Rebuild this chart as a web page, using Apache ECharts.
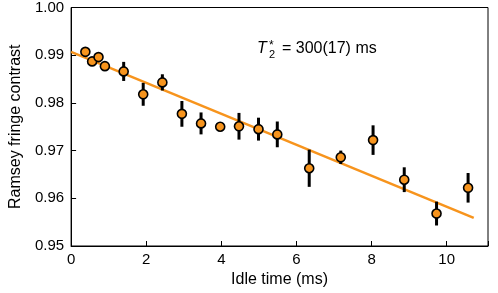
<!DOCTYPE html>
<html><head><meta charset="utf-8">
<script src="https://cdn.jsdelivr.net/npm/echarts@6/dist/echarts.min.js"></script>
<style>html,body{margin:0;padding:0;background:#fff}#c{width:498px;height:293px}</style>
</head><body><div id="c"></div>
<script>
const idleTime = [0.38, 0.56, 0.73, 0.90, 1.40, 1.92, 2.43, 2.95, 3.46, 3.97, 4.47, 4.99, 5.49, 6.34, 7.18, 8.04, 8.87, 9.73, 10.57];
const contrast = [0.9907, 0.9887, 0.9896, 0.9877, 0.9866, 0.9818, 0.9843, 0.9777, 0.9757, 0.9750, 0.9751, 0.9745, 0.9734, 0.9663, 0.9686, 0.9722, 0.9639, 0.9568, 0.9622];
const errorBar = [0, 0, 0, 0, 0.0020, 0.0024, 0.0017, 0.0027, 0.0023, 0, 0.0028, 0.0024, 0.0027, 0.0039, 0.0014, 0.0031, 0.0026, 0.0025, 0.0031];
const fitTime = [0, 10.72];
const fitContrast = [0.9907, 0.9559];
const xTicks = [0, 2, 4, 6, 8, 10];
const yTicks = [0.95, 0.96, 0.97, 0.98, 0.99, 1.00];

const FONT = '"Liberation Sans", Arial, Helvetica, sans-serif';
const ORANGE = '#F7941D';

const pts = idleTime.map((x, i) => [x, contrast[i]]);
const errs = idleTime.map((x, i) => [x, contrast[i] - errorBar[i], contrast[i] + errorBar[i]]).filter((d, i) => errorBar[i] > 0);
const fit = fitTime.map((x, i) => [x, fitContrast[i]]);

const chart = echarts.init(document.getElementById('c'), null, {renderer: 'canvas'});
chart.setOption({
  animation: false,
  backgroundColor: '#fff',
  grid: {left: 69, right: 10, top: 7, bottom: 47, show: true, borderColor: '#000', borderWidth: 1},
  xAxis: {
    type: 'value', min: 0, max: 11.1, interval: 2,
    name: 'Idle time (ms)', nameLocation: 'middle', nameGap: 26,
    nameTextStyle: {fontFamily: FONT, fontSize: 16, color: '#000'},
    axisLine: {show: true, lineStyle: {color: '#000', width: 1}},
    axisTick: {show: true, inside: true, length: 5, lineStyle: {color: '#000'}},
    axisLabel: {fontFamily: FONT, fontSize: 15, color: '#000', margin: 6,
      formatter: v => xTicks.includes(v) ? String(v) : ''},
    splitLine: {show: false}
  },
  yAxis: {
    type: 'value', min: 0.95, max: 1.0, interval: 0.01,
    name: 'Ramsey fringe contrast', nameLocation: 'middle', nameGap: 46,
    nameTextStyle: {fontFamily: FONT, fontSize: 16, color: '#000'},
    axisLine: {show: true, lineStyle: {color: '#000', width: 1}},
    axisTick: {show: true, inside: true, length: 5, lineStyle: {color: '#000'}},
    axisLabel: {fontFamily: FONT, fontSize: 15, color: '#000', margin: 7,
      formatter: v => { const t = yTicks.find(k => Math.abs(k - v) < 1e-9); return t !== undefined ? t.toFixed(2) : ''; }},
    splitLine: {show: false}
  },
  series: [
    {
      type: 'line', data: fit, symbol: 'none', z: 1,
      lineStyle: {color: ORANGE, width: 2.5}
    },
    {
      type: 'custom', z: 2,
      data: errs,
      renderItem: (params, api) => {
        const x = api.value(0);
        const p1 = api.coord([x, api.value(1)]);
        const p2 = api.coord([x, api.value(2)]);
        return {type: 'line', shape: {x1: p1[0], y1: p1[1], x2: p2[0], y2: p2[1]},
          style: {stroke: '#000', lineWidth: 3}};
      }
    },
    {
      type: 'scatter', data: pts, z: 3, symbol: 'circle', symbolSize: 9,
      itemStyle: {color: ORANGE, borderColor: '#000', borderWidth: 1.6, opacity: 1}
    }
  ],
  graphic: [
    {type: 'text', left: 257, top: 41, style: {text: 'T', font: 'italic 16px ' + FONT, fill: '#000'}},
    {type: 'text', left: 269, top: 49, style: {text: '2', font: '11px ' + FONT, fill: '#000'}},
    {type: 'text', left: 269, top: 40, style: {text: '*', font: '12px ' + FONT, fill: '#000'}},
    {type: 'text', left: 282, top: 41, style: {text: '= 300(17) ms', font: '16px ' + FONT, fill: '#000'}}
  ]
});
</script>
</body></html>
